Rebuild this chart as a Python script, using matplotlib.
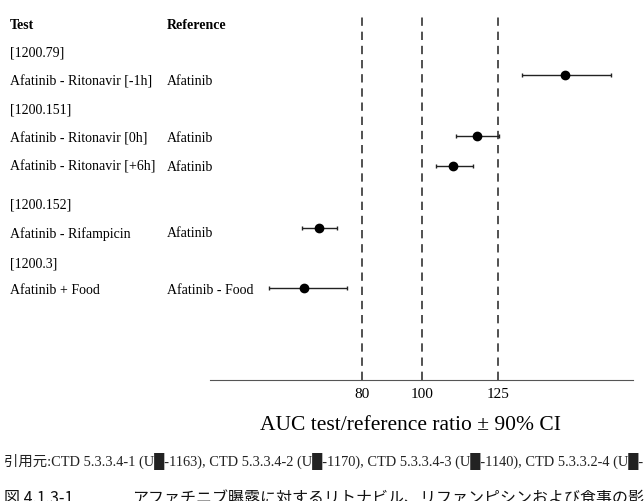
import matplotlib.pyplot as plt

# data
groups = ['[1200.79]', '[1200.151]', '[1200.152]', '[1200.3]']
tests = ['Afatinib - Ritonavir [-1h]', 'Afatinib - Ritonavir [0h]', 'Afatinib - Ritonavir [+6h]',
         'Afatinib - Rifampicin', 'Afatinib + Food']
refs = ['Afatinib', 'Afatinib', 'Afatinib', 'Afatinib', 'Afatinib - Food']
ratio = [147.0, 118.0, 110.3, 65.9, 61.1]
ci_lo = [133.1, 111.1, 104.5, 60.5, 49.4]
ci_hi = [162.4, 125.5, 116.7, 72.0, 75.2]
ref_lines = [80, 100, 125]

# row layout (top to bottom)
group_rows = [1, 3, 6.35, 8.4]
test_rows = [2, 4, 5, 7.35, 9.35]
point_rows = [1.77, 3.91, 4.97, 7.14, 9.25]

plt.rcParams['font.family'] = ['Liberation Serif', 'Noto Sans CJK JP', 'DejaVu Sans']

fig = plt.figure(figsize=(6.44, 5.01), dpi=100)
ax = fig.add_axes([210 / 644, 121 / 501, 423 / 644, 366 / 501])
ax.set_xlim(30, 169.6)
ax.set_ylim(12.5, -0.39)

for v in ref_lines:
    ax.axvline(v, color='#333333', lw=1.2, ls=(0, (5, 3.5)))

ax.errorbar(ratio, point_rows, xerr=[[r - l for r, l in zip(ratio, ci_lo)],
                                     [h - r for r, h in zip(ratio, ci_hi)]],
            fmt='o', color='black', ms=6, ecolor='#222222', elinewidth=1, capsize=1.5)

for s in ['top', 'right', 'left']:
    ax.spines[s].set_visible(False)
ax.spines['bottom'].set_color('#555555')
ax.set_yticks([])
ax.set_xticks(ref_lines)
ax.tick_params(axis='x', length=0, pad=6, labelsize=11)
ax.set_xlabel('AUC test/reference ratio ± 90% CI', fontsize=15.5)
ax.xaxis.set_label_coords(0.475, -0.098)

# left-side table text
tr = ax.get_yaxis_transform()
x_test = (10 - 210) / 423
x_ref = (167 - 210) / 423
ax.text(x_test, 0, 'Test', transform=tr, fontsize=10, fontweight='bold', va='center')
ax.text(x_ref, 0, 'Reference', transform=tr, fontsize=10, fontweight='bold', va='center')
for g, y in zip(groups, group_rows):
    ax.text(x_test, y, g, transform=tr, fontsize=10, va='center')
for t, r, y in zip(tests, refs, test_rows):
    ax.text(x_test, y, t, transform=tr, fontsize=10, va='center')
    ax.text(x_ref, y, r, transform=tr, fontsize=10, va='center')

fig.text(4 / 644, 1 - 461 / 501,
         '引用元:CTD 5.3.3.4-1 (U█-1163), CTD 5.3.3.4-2 (U█-1170), '
         'CTD 5.3.3.4-3 (U█-1140), CTD 5.3.3.2-4 (U█-1125)',
         fontsize=10.35, va='center', color='#222222')
fig.text(4 / 644, 1 - 490 / 501, '図 4.1.3-1',
         fontsize=11.5, va='top', family=['Noto Sans CJK JP', 'DejaVu Sans'], color='#111111')
fig.text(132 / 644, 1 - 490 / 501,
         'アファチニブ曝露に対するリトナビル、リファンピシンおよび食事の影響',
         fontsize=11.5, va='top', family=['Noto Sans CJK JP', 'DejaVu Sans'], color='#111111')

plt.savefig('out.png', dpi=100)
plt.close()
